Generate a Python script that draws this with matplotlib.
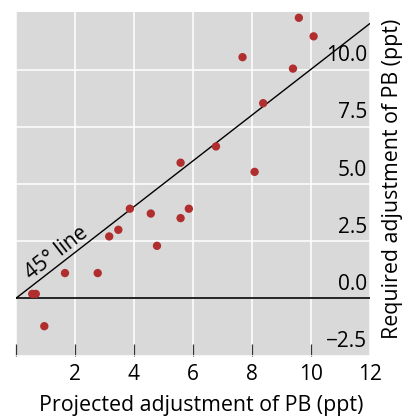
"""Scatter of projected vs required adjustment of PB with a 45 degree reference line."""

import matplotlib

matplotlib.use("Agg")
import matplotlib.pyplot as plt
import matplotlib.transforms as mtransforms
import numpy as np

BACKGROUND = "#D9D9D9"
POINT_RED = "#B02E2E"
INK = "#000000"

# projected (x) and required (y) adjustment of primary balance, ppt
projected = [0.56, 0.68, 0.97, 1.67, 2.78, 3.17, 3.48, 3.87, 4.58, 4.79,
             5.59, 5.59, 5.87, 6.79, 7.69, 8.10, 8.39, 9.40, 9.60, 10.10]
required = [0.20, 0.20, -1.21, 1.11, 1.11, 2.71, 3.00, 3.92, 3.71, 2.30,
            3.51, 5.93, 3.92, 6.64, 10.54, 5.53, 8.53, 10.04, 12.26, 11.45]

x_ticks = [0, 2, 4, 6, 8, 10, 12]
x_tick_labels = ["", "2", "4", "6", "8", "10", "12"]
y_ticks = [-2.5, 0.0, 2.5, 5.0, 7.5, 10.0]
y_tick_labels = [f"{v:.1f}".replace("-", "\u2212") for v in y_ticks]
x_limits = (0, 12)
y_limits = (-2.5, 12.5)

plt.rcParams["font.family"] = ["Open Sans", "DejaVu Sans"]

fig = plt.figure(figsize=(4.08, 4.18), dpi=100)
ax = fig.add_axes([0.0385, 0.149, 0.8675, 0.8216])
ax.set_facecolor(BACKGROUND)
for spine in ax.spines.values():
    spine.set_visible(False)

ax.set_xlim(*x_limits)
ax.set_ylim(*y_limits)
ax.set_xticks(x_ticks, x_tick_labels)
ax.set_yticks(y_ticks, y_tick_labels)
ax.grid(True, color="white", linewidth=1.1)
ax.set_axisbelow(True)

ax.tick_params(axis="x", direction="in", length=9, width=0.9, color="#333333",
               labelsize=15, pad=6)
ax.xaxis.get_major_ticks()[-1].tick1line.set_visible(False)

ax.yaxis.tick_right()
ax.tick_params(axis="y", length=0, labelsize=15, pad=-1.8)
offset = mtransforms.ScaledTranslation(0, 2.5 / 72, fig.dpi_scale_trans)
for label in ax.get_yticklabels():
    label.set_horizontalalignment("right")
    label.set_verticalalignment("bottom")
    label.set_transform(label.get_transform() + offset)

diag = np.array(x_limits, dtype=float)
ax.plot(diag, diag, color=INK, linewidth=1.0, zorder=2)
ax.axhline(0.0, color=INK, linewidth=1.2, zorder=2)

ax.scatter(projected, required, s=36, color=POINT_RED, edgecolors="none", zorder=3)

ax.text(1.39, 2.0, "45° line", rotation=37.8, rotation_mode="anchor",
        ha="center", va="center", fontsize=15, color=INK)

ax.set_xlabel("Projected adjustment of PB (ppt)", fontsize=15.4)
ax.xaxis.set_label_coords(0.525, -0.115)
ax.yaxis.set_label_position("right")
ax.set_ylabel("Required adjustment of PB (ppt)", fontsize=15.4)
ax.yaxis.set_label_coords(1.035, 0.515)

fig.savefig("out.png", dpi=100)
